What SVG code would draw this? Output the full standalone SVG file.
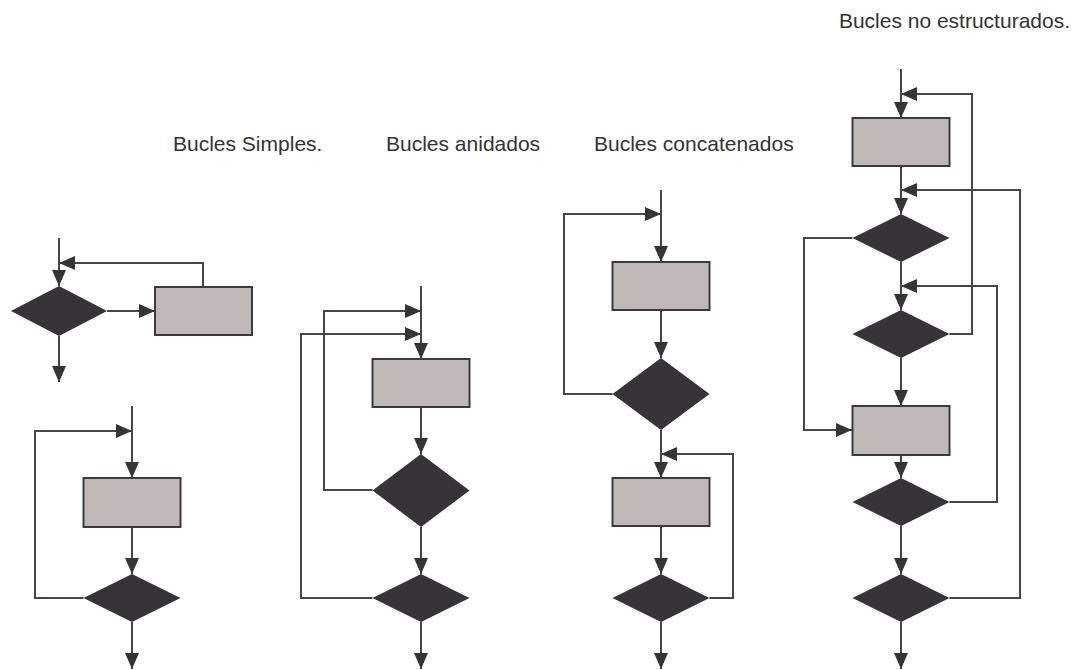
<svg xmlns="http://www.w3.org/2000/svg" width="1074" height="670" viewBox="0 0 1074 670">
  <style>
    .box { fill: #c0b8b6; stroke: #3c3a3e; stroke-width: 2; }
    .dec { fill: #363439; stroke: none; }
    .ln { fill: none; stroke: #48464a; stroke-width: 2; }
    .arr { marker-end: url(#ah); }
    .lbl { font-family: "Liberation Sans", Arial, sans-serif; font-size: 21px; fill: #333333; }
  </style>
  <defs>
    <marker id="ah" markerWidth="16" markerHeight="14" refX="16" refY="7" orient="auto" markerUnits="userSpaceOnUse">
      <path d="M0,0 L16,7 L0,14 z" fill="#363439"/>
    </marker>
  </defs>
  <rect width="1074" height="670" fill="#ffffff"/>

  <!-- titles -->
  <g id="titles">
    <text class="lbl" x="1070" y="28" text-anchor="end" font-size="20.5">Bucles no estructurados.</text>
    <text class="lbl" x="173" y="151">Bucles Simples.</text>
    <text class="lbl" x="386" y="151">Bucles anidados</text>
    <text class="lbl" x="594" y="151">Bucles concatenados</text>
  </g>

  <!-- connectors -->
  <g id="connectors">
    <!-- simple loop, test first -->
    <path class="ln arr" d="M59,238 V286"/>
    <path class="ln arr" d="M107,311 H155"/>
    <path class="ln arr" d="M203,287 V263 H59"/>
    <path class="ln arr" d="M59,336 V382"/>
    <!-- simple loop, test last -->
    <path class="ln arr" d="M132,406 V478"/>
    <path class="ln arr" d="M132,527 V574"/>
    <path class="ln arr" d="M83.5,598 H35 V431 H132"/>
    <path class="ln arr" d="M132,622 V669"/>
    <!-- nested loops -->
    <path class="ln arr" d="M421,286 V359"/>
    <path class="ln arr" d="M421,407 V454"/>
    <path class="ln arr" d="M421,527 V574"/>
    <path class="ln arr" d="M372.5,490 H324 V311 H421"/>
    <path class="ln arr" d="M372.5,598 H301 V334 H421"/>
    <path class="ln arr" d="M421,622 V669"/>
    <!-- concatenated loops -->
    <path class="ln arr" d="M661,190 V262"/>
    <path class="ln arr" d="M661,310 V358"/>
    <path class="ln arr" d="M612.5,394 H564 V214 H661"/>
    <path class="ln arr" d="M661,430 V478"/>
    <path class="ln arr" d="M661,526 V574"/>
    <path class="ln arr" d="M709.5,598 H733 V454 H661"/>
    <path class="ln arr" d="M661,622 V669"/>
    <!-- unstructured loops -->
    <path class="ln arr" d="M901,69 V118"/>
    <path class="ln arr" d="M901,166 V214"/>
    <path class="ln arr" d="M901,262 V310"/>
    <path class="ln arr" d="M901,358 V406"/>
    <path class="ln arr" d="M901,455 V478"/>
    <path class="ln arr" d="M901,526 V574"/>
    <path class="ln arr" d="M901,622 V669"/>
    <path class="ln arr" d="M949.5,334 H972 V94 H901"/>
    <path class="ln arr" d="M949.5,502 H997 V286 H901"/>
    <path class="ln arr" d="M949.5,598 H1020 V190 H901"/>
    <path class="ln arr" d="M852.5,238 H804 V430 H852"/>
  </g>

  <!-- simple loop, test first -->
  <g id="s1-dec"><polygon class="dec" points="59,286 107,311 59,336 11,311"/></g>
  <g id="s1-proc"><rect class="box" x="155" y="287" width="97" height="48"/></g>
  <!-- simple loop, test last -->
  <g id="s2-proc"><rect class="box" x="83.5" y="478" width="97" height="49"/></g>
  <g id="s2-dec"><polygon class="dec" points="132,574 180.5,598 132,622 83.5,598"/></g>

  <!-- nested loops -->
  <g id="n-proc"><rect class="box" x="372.5" y="359" width="97" height="48"/></g>
  <g id="n-dec1"><polygon class="dec" points="421,454 469.5,490.5 421,527 372.5,490.5"/></g>
  <g id="n-dec2"><polygon class="dec" points="421,574 469.5,598 421,622 372.5,598"/></g>

  <!-- concatenated loops -->
  <g id="c-proc1"><rect class="box" x="612.5" y="262" width="97" height="48"/></g>
  <g id="c-dec1"><polygon class="dec" points="661,358 709.5,394 661,430 612.5,394"/></g>
  <g id="c-proc2"><rect class="box" x="612.5" y="478" width="97" height="48"/></g>
  <g id="c-dec2"><polygon class="dec" points="661,574 709.5,598 661,622 612.5,598"/></g>

  <!-- unstructured loops -->
  <g id="u-proc1"><rect class="box" x="852.5" y="118" width="97" height="48"/></g>
  <g id="u-dec1"><polygon class="dec" points="901,214 949.5,238 901,262 852.5,238"/></g>
  <g id="u-dec2"><polygon class="dec" points="901,310 949.5,334 901,358 852.5,334"/></g>
  <g id="u-proc2"><rect class="box" x="852.5" y="406" width="97" height="49"/></g>
  <g id="u-dec3"><polygon class="dec" points="901,478 949.5,502 901,526 852.5,502"/></g>
  <g id="u-dec4"><polygon class="dec" points="901,574 949.5,598 901,622 852.5,598"/></g>
</svg>
